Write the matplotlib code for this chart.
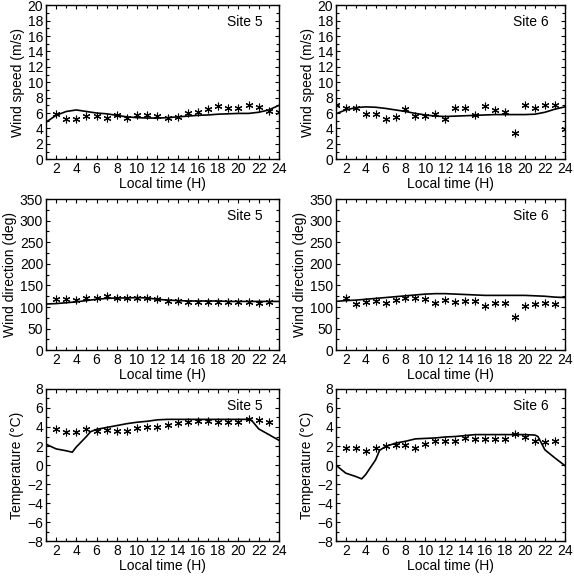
import numpy as np
import matplotlib
matplotlib.use('Agg')
import matplotlib.pyplot as plt
from matplotlib.ticker import MultipleLocator

plt.rcParams['font.family'] = ['Liberation Sans', 'DejaVu Sans']
plt.rcParams['font.size'] = 10

nan = np.nan
hours = np.arange(1, 25)

# observed values (asterisks), hours 1..24
obs_speed_5 = [nan, 5.85, 5.2, 5.2, 5.6, 5.6, 5.35, 5.7, 5.3, 5.7, 5.7, 5.65, 5.4, 5.55,
               6.0, 6.1, 6.5, 6.9, 6.65, 6.7, 7.1, 6.8, 6.3, 6.1]
obs_speed_6 = [7.1, 6.6, 6.6, 5.85, 5.9, 5.2, 5.5, 6.5, 5.6, 5.6, 5.85, 5.2, 6.6, 6.6,
               5.75, 6.9, 6.35, 6.15, 3.45, 7.0, 6.6, 7.1, 7.1, 3.9]
obs_dir_5 = [nan, 118, 118, 116, 120, 120, 125, 121, 120, 121, 121, 118, 115, 114,
             112, 112, 112, 112, 112, 112, 112, 110, 111, nan]
obs_dir_6 = [nan, 121, 106, 111, 113, 110, 117, 121, 121, 119, 110, 117, 112, 115,
             115, 103, 110, 110, 77, 103, 106, 110, 106, nan]
obs_temp_5 = [nan, 3.75, 3.5, 3.5, 3.75, 3.6, 3.7, 3.6, 3.6, 3.9, 4.0, 4.0, 4.2, 4.4,
              4.5, 4.65, 4.65, 4.5, 4.5, 4.5, 4.8, 4.75, 4.5, nan]
obs_temp_6 = [nan, 1.8, 1.8, 1.5, 1.8, 1.95, 2.15, 2.15, 1.8, 2.25, 2.5, 2.5, 2.5, 2.85,
              2.75, 2.75, 2.75, 2.75, 3.25, 2.9, 2.5, 2.4, 2.5, nan]

# model values (solid lines)
mod_speed_5 = [4.8, 5.7, 6.2, 6.4, 6.2, 6.0, 5.9, 5.7, 5.5, 5.4, 5.35, 5.35, 5.4, 5.5,
               5.6, 5.7, 5.75, 5.85, 5.9, 5.95, 5.95, 6.1, 6.4, 7.0]
mod_speed_6 = [5.9, 6.4, 6.7, 6.8, 6.75, 6.6, 6.4, 6.2, 5.95, 5.75, 5.6, 5.55, 5.6, 5.65,
               5.7, 5.75, 5.8, 5.8, 5.8, 5.8, 5.85, 6.1, 6.5, 6.8]
mod_dir_5 = [107, 108, 110, 112, 115, 118, 120, 121, 121, 122, 121, 118, 116, 115,
             114, 114, 114, 114, 113, 113, 113, 113, 113, 113]
mod_dir_6 = [113, 115, 116, 118, 120, 122, 124, 126, 128, 130, 131, 131, 130, 129,
             128, 127, 127, 127, 127, 127, 126, 125, 123, 122]
mod_temp_hours = [1, 2, 3, 3.6, 4, 5, 5.4, 6, 7, 8, 9, 10, 11, 12, 13, 14, 15, 16,
                  17, 18, 19, 20, 21, 21.3, 22, 23, 24]
mod_temp_5 = [2.2, 1.7, 1.5, 1.35, 1.9, 3.0, 3.5, 3.75, 3.95, 4.15, 4.35, 4.5, 4.6, 4.75,
              4.8, 4.8, 4.8, 4.8, 4.8, 4.8, 4.8, 4.8, 4.8, 4.7, 3.8, 3.2, 2.6]
mod_temp_6 = [0.0, -0.85, -1.2, -1.45, -1.0, 0.55, 1.55, 1.95, 2.3, 2.5, 2.75, 2.8, 2.85, 2.95,
              3.0, 3.1, 3.2, 3.2, 3.2, 3.2, 3.2, 3.2, 3.15, 3.0, 1.6, 0.75, -0.05]

fig = plt.figure(figsize=(5.74, 5.77), dpi=100)

# axes boxes [left, bottom, width, height]
left_cols = [0.080, 0.585]
widths = [0.406, 0.399]
rows = [(0.724, 0.267), (0.393, 0.262), (0.062, 0.264)]

panels = [
    (0, 0, hours, mod_speed_5, obs_speed_5, 'Site 5', 'Wind speed (m/s)', (0, 20), 2, 1),
    (0, 1, hours, mod_speed_6, obs_speed_6, 'Site 6', 'Wind speed (m/s)', (0, 20), 2, 1),
    (1, 0, hours, mod_dir_5, obs_dir_5, 'Site 5', 'Wind direction (deg)', (0, 350), 50, 25),
    (1, 1, hours, mod_dir_6, obs_dir_6, 'Site 6', 'Wind direction (deg)', (0, 350), 50, 25),
    (2, 0, mod_temp_hours, mod_temp_5, obs_temp_5, 'Site 5', 'Temperature (\u00b0C)', (-8, 8), 2, 1),
    (2, 1, mod_temp_hours, mod_temp_6, obs_temp_6, 'Site 6', 'Temperature (\u00b0C)', (-8, 8), 2, 1),
]

asterisk = (6, 2, 0)
for r, c, mx, my, obs, site, ylabel, ylim, major, minor in panels:
    ax = fig.add_axes([left_cols[c], rows[r][0], widths[c], rows[r][1]])
    ax.plot(mx, my, color='black', lw=1.2)
    ax.plot(hours, obs, linestyle='none', marker=asterisk, color='black',
            markersize=5.5, markeredgewidth=0.8)
    ax.set_xlim(1, 24)
    ax.set_ylim(*ylim)
    ax.set_xticks(range(2, 25, 2))
    ax.xaxis.set_minor_locator(MultipleLocator(1))
    ax.yaxis.set_major_locator(MultipleLocator(major))
    ax.yaxis.set_minor_locator(MultipleLocator(minor))
    ax.tick_params(which='both', direction='in', top=True, right=True, width=0.8)
    ax.tick_params(which='major', length=3, pad=2)
    ax.tick_params(which='minor', length=2)
    ax.set_xlabel('Local time (H)', labelpad=1)
    ax.set_ylabel(ylabel, labelpad=2)
    ax.text(0.93, 0.89, site, transform=ax.transAxes, ha='right', va='center')
    for s in ax.spines.values():
        s.set_linewidth(1.0)

fig.savefig('out.png', dpi=100)
